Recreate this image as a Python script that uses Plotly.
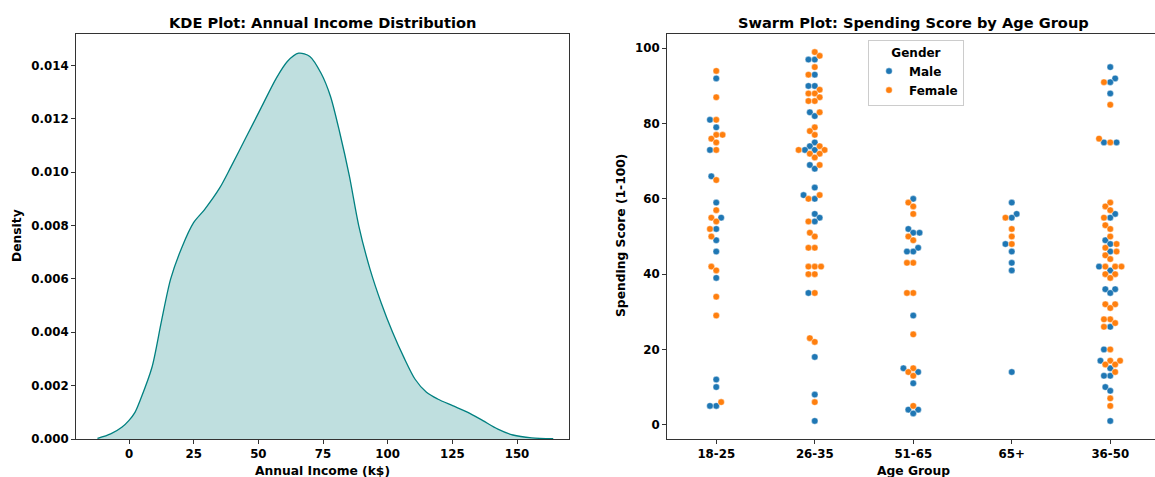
import numpy as np
import plotly.graph_objects as go

W, H = 1155, 477

# ---------------- data ----------------
# KDE curve of Annual Income (k$)
kde_x = [-12.2, -7.1, -2.8, 0.0, 2.3, 4.5, 8.9, 12.5, 16.1, 20.5, 24.9, 29.2, 35.0,
         39.4, 45.2, 51.0, 56.8, 61.2, 65.6, 69.9, 74.3, 77.9, 81.5, 85.2, 88.8,
         93.2, 97.5, 101.9, 106.3, 110.6, 115.0, 119.3, 125.1, 131.0, 136.8, 142.6,
         148.4, 155.7, 164.0]
kde_y = [0.00002, 0.00019, 0.00044, 0.0007, 0.0010, 0.0015, 0.0027, 0.0044, 0.0060,
         0.0072, 0.0081, 0.0086, 0.0094, 0.0102, 0.0113, 0.0124, 0.0135, 0.01415,
         0.01446, 0.01434, 0.0137, 0.01284, 0.01147, 0.00985, 0.0080, 0.00636,
         0.0051, 0.0040, 0.00305, 0.00224, 0.00175, 0.0015, 0.00125, 0.0010,
         0.00069, 0.00037, 0.00015, 0.00004, 0.00001]

age_groups = ["18-25", "26-35", "51-65", "65+", "36-50"]

score_18_25 = [94, 92, 87, 81, 81, 79, 77, 77, 76, 75, 73, 73, 66, 65, 59, 57, 55, 55,
               54, 52, 52, 50, 49, 46, 42, 41, 39, 34, 29, 12, 10, 6, 5, 5]
gender_18_25 = ["F", "M", "F", "F", "M", "M", "F", "F", "F", "F", "F", "M", "M", "F",
                "M", "F", "F", "M", "F", "M", "F", "F", "M", "M", "F", "F", "M", "F",
                "F", "M", "M", "F", "M", "M"]

score_26_35 = [99, 98, 97, 97, 95, 93, 93, 90, 90, 89, 88, 88, 87, 86, 86, 83, 83, 82,
               79, 78, 77, 75, 74, 74, 73, 73, 73, 73, 72, 72, 71, 69, 69, 68, 63, 61,
               61, 60, 60, 56, 55, 54, 54, 51, 50, 47, 47, 42, 42, 42, 40, 40, 35, 35,
               23, 22, 18, 8, 6, 1]
gender_26_35 = ["F", "F", "M", "M", "F", "M", "F", "M", "M", "F", "F", "F", "F", "F",
                "F", "M", "F", "M", "F", "F", "F", "M", "M", "F", "M", "M", "F", "F",
                "F", "F", "F", "M", "F", "M", "M", "F", "M", "M", "F", "M", "M", "M",
                "F", "F", "F", "F", "F", "F", "F", "F", "F", "F", "F", "M", "F", "F",
                "M", "M", "F", "M"]

score_51_65 = [60, 59, 58, 56, 52, 51, 51, 50, 49, 47, 46, 46, 43, 43, 35, 35, 29, 24,
               15, 15, 14, 14, 13, 11, 5, 4, 4, 3]
gender_51_65 = ["M", "F", "F", "F", "M", "M", "M", "F", "F", "M", "M", "M", "F", "F",
                "F", "F", "M", "F", "F", "M", "F", "M", "F", "M", "F", "M", "M", "M"]

score_65p = [59, 56, 55, 55, 52, 50, 48, 48, 46, 43, 41, 14]
gender_65p = ["M", "M", "M", "F", "F", "F", "F", "M", "M", "M", "M", "M"]

score_36_50 = [95, 92, 91, 91, 88, 85, 76, 75, 75, 75, 59, 58, 57, 56, 55, 55, 53, 52,
               50, 49, 48, 48, 47, 46, 46, 45, 44, 42, 42, 42, 42, 41, 40, 40, 39, 36,
               36, 35, 32, 32, 31, 28, 28, 27, 26, 26, 20, 20, 17, 17, 17, 16, 16, 15,
               14, 13, 13, 10, 9, 7, 5, 1]
gender_36_50 = ["M", "M", "M", "F", "M", "F", "F", "F", "M", "M", "F", "F", "F", "M",
                "M", "F", "F", "F", "F", "M", "M", "F", "F", "M", "F", "F", "F", "F",
                "F", "M", "F", "M", "F", "F", "F", "M", "M", "M", "F", "F", "F", "F",
                "F", "F", "M", "F", "F", "M", "F", "M", "F", "F", "F", "M", "F", "M",
                "M", "M", "M", "F", "F", "M"]

group_scores = [score_18_25, score_26_35, score_51_65, score_65p, score_36_50]
group_genders = [gender_18_25, gender_26_35, gender_51_65, gender_65p, gender_36_50]

# ---------------- layout geometry (pixels) ----------------
L1, R1 = 76, 569
L2, R2 = 667, 1155
T, B = 34, 439
CAT_PX = 98.5                        # pixel distance between categories
x2_range = [-0.5, -0.5 + (R2 - L2) / CAT_PX]
y2_range = [-3.8, 103.8]
y_px_per_unit = (B - T) / (y2_range[1] - y2_range[0])
x1_range = [-20.5, 170.1]
y1_range = [0, 0.01518]
DOT = 6.0                            # swarm dot diameter in px

BLUE = "#1f77b4"
ORANGE = "#ff7f0e"
TEAL = "#008080"
SPINE = "#333333"
FONT = "DejaVu Sans"


def beeswarm(values, d):
    """seaborn-like beeswarm; returns x offsets in pixels for each value."""
    vals = np.asarray(values, float)
    order = np.argsort(vals, kind="stable")
    pts = [(0.0, vals[i] * y_px_per_unit) for i in order]
    r2 = d * d
    swarm = [pts[0]]
    midline = pts[0][0]
    for xi, yi in pts[1:]:
        neigh = []
        for xj, yj in reversed(swarm):
            if yi - yj < d:
                neigh.append((xj, yj))
            else:
                break
        neigh = neigh[::-1]
        cands = [(xi, yi)]
        left_first = True
        for xj, yj in neigh:
            dy = yi - yj
            dx = np.sqrt(max(r2 - dy * dy, 0.0)) * 1.05
            cl, cr = (xj - dx, yi), (xj + dx, yi)
            cands.extend([cl, cr] if left_first else [cr, cl])
            left_first = not left_first
        offs = np.abs(np.array([c[0] for c in cands]) - midline)
        cands = [cands[k] for k in np.argsort(offs, kind="stable")]
        chosen = cands[-1]
        for c in cands:
            if all((c[0] - xj) ** 2 + (c[1] - yj) ** 2 >= r2 for xj, yj in neigh):
                chosen = c
                break
        swarm.append(chosen)
    out = np.zeros(len(vals))
    for k, i in enumerate(order):
        out[i] = swarm[k][0]
    return out


xs = {"M": [], "F": []}
ys = {"M": [], "F": []}
for gi, (sc, gd) in enumerate(zip(group_scores, group_genders)):
    off = beeswarm(sc, DOT)
    for v, g, o in zip(sc, gd, off):
        xs[g].append(gi + o / CAT_PX)
        ys[g].append(v)

fig = go.Figure()

fig.add_trace(go.Scatter(
    x=kde_x, y=kde_y, mode="lines", line=dict(color=TEAL, width=1.3, shape="spline", smoothing=0.8),
    fill="tozeroy", fillcolor="rgba(0,128,128,0.25)", showlegend=False,
    xaxis="x", yaxis="y", hoverinfo="skip"))

for key, name, col in [("M", "Male", BLUE), ("F", "Female", ORANGE)]:
    fig.add_trace(go.Scatter(
        x=xs[key], y=ys[key], mode="markers", name=name,
        marker=dict(color=col, size=DOT + 0.5, line=dict(color="white", width=0.4)),
        xaxis="x2", yaxis="y2"))

tickfont = dict(family=FONT, size=11.8, color="black", weight="bold")
common = dict(showline=True, linecolor=SPINE, linewidth=1, ticks="outside",
              ticklen=4, tickwidth=1, tickcolor=SPINE, showgrid=False,
              zeroline=False, tickfont=tickfont, automargin=False)

fig.update_layout(
    width=W, height=H,
    margin=dict(l=0, r=0, t=0, b=0),
    paper_bgcolor="white", plot_bgcolor="white",
    font=dict(family=FONT, color="black"),
    xaxis=dict(domain=[L1 / W, R1 / W], range=x1_range, tickvals=[0, 25, 50, 75, 100, 125, 150],
               mirror=True, anchor="y", **common),
    yaxis=dict(domain=[1 - B / H, 1 - T / H], range=y1_range,
               tickvals=[0, 0.002, 0.004, 0.006, 0.008, 0.010, 0.012, 0.014],
               tickformat=".3f", mirror=True, anchor="x", **common),
    xaxis2=dict(domain=[L2 / W, R2 / W], range=x2_range, tickvals=list(range(len(age_groups))),
                ticktext=age_groups, mirror=True, anchor="y2", **common),
    yaxis2=dict(domain=[1 - B / H, 1 - T / H], range=y2_range, tickvals=[0, 20, 40, 60, 80, 100],
                mirror=False, anchor="x2", **common),
    legend=dict(x=868 / W, y=1 - 40 / H, xanchor="left", yanchor="top",
                bgcolor="rgba(255,255,255,0.9)", bordercolor="#cccccc", borderwidth=1,
                font=dict(family=FONT, size=12, color="black", weight="bold"),
                title=dict(text="Gender", side="top center",
                           font=dict(family=FONT, size=12, color="black", weight="bold")),
                tracegroupgap=0),
    showlegend=True,
)

ann_font = dict(family=FONT, size=12.3, color="black", weight="bold")
title_font = dict(family=FONT, size=14.6, color="black", weight="bold")
fig.add_annotation(text="KDE Plot: Annual Income Distribution", x=(L1 + R1) / 2 / W, y=1 - 22 / H,
                   xref="paper", yref="paper", showarrow=False, font=title_font,
                   xanchor="center", yanchor="middle")
fig.add_annotation(text="Swarm Plot: Spending Score by Age Group", x=913.5 / W, y=1 - 22 / H,
                   xref="paper", yref="paper", showarrow=False, font=title_font,
                   xanchor="center", yanchor="middle")
fig.add_annotation(text="Density", x=17 / W, y=1 - 236 / H, xref="paper", yref="paper",
                   showarrow=False, font=ann_font, textangle=-90, xanchor="center", yanchor="middle")
fig.add_annotation(text="Annual Income (k$)", x=(L1 + R1) / 2 / W, y=1 - 471 / H, xref="paper",
                   yref="paper", showarrow=False, font=ann_font, xanchor="center", yanchor="middle")
fig.add_annotation(text="Spending Score (1-100)", x=621 / W, y=1 - 236 / H, xref="paper",
                   yref="paper", showarrow=False, font=ann_font, textangle=-90,
                   xanchor="center", yanchor="middle")
fig.add_annotation(text="Age Group", x=913.5 / W, y=1 - 471 / H, xref="paper", yref="paper",
                   showarrow=False, font=ann_font, xanchor="center", yanchor="middle")

fig.write_html("out.html")
